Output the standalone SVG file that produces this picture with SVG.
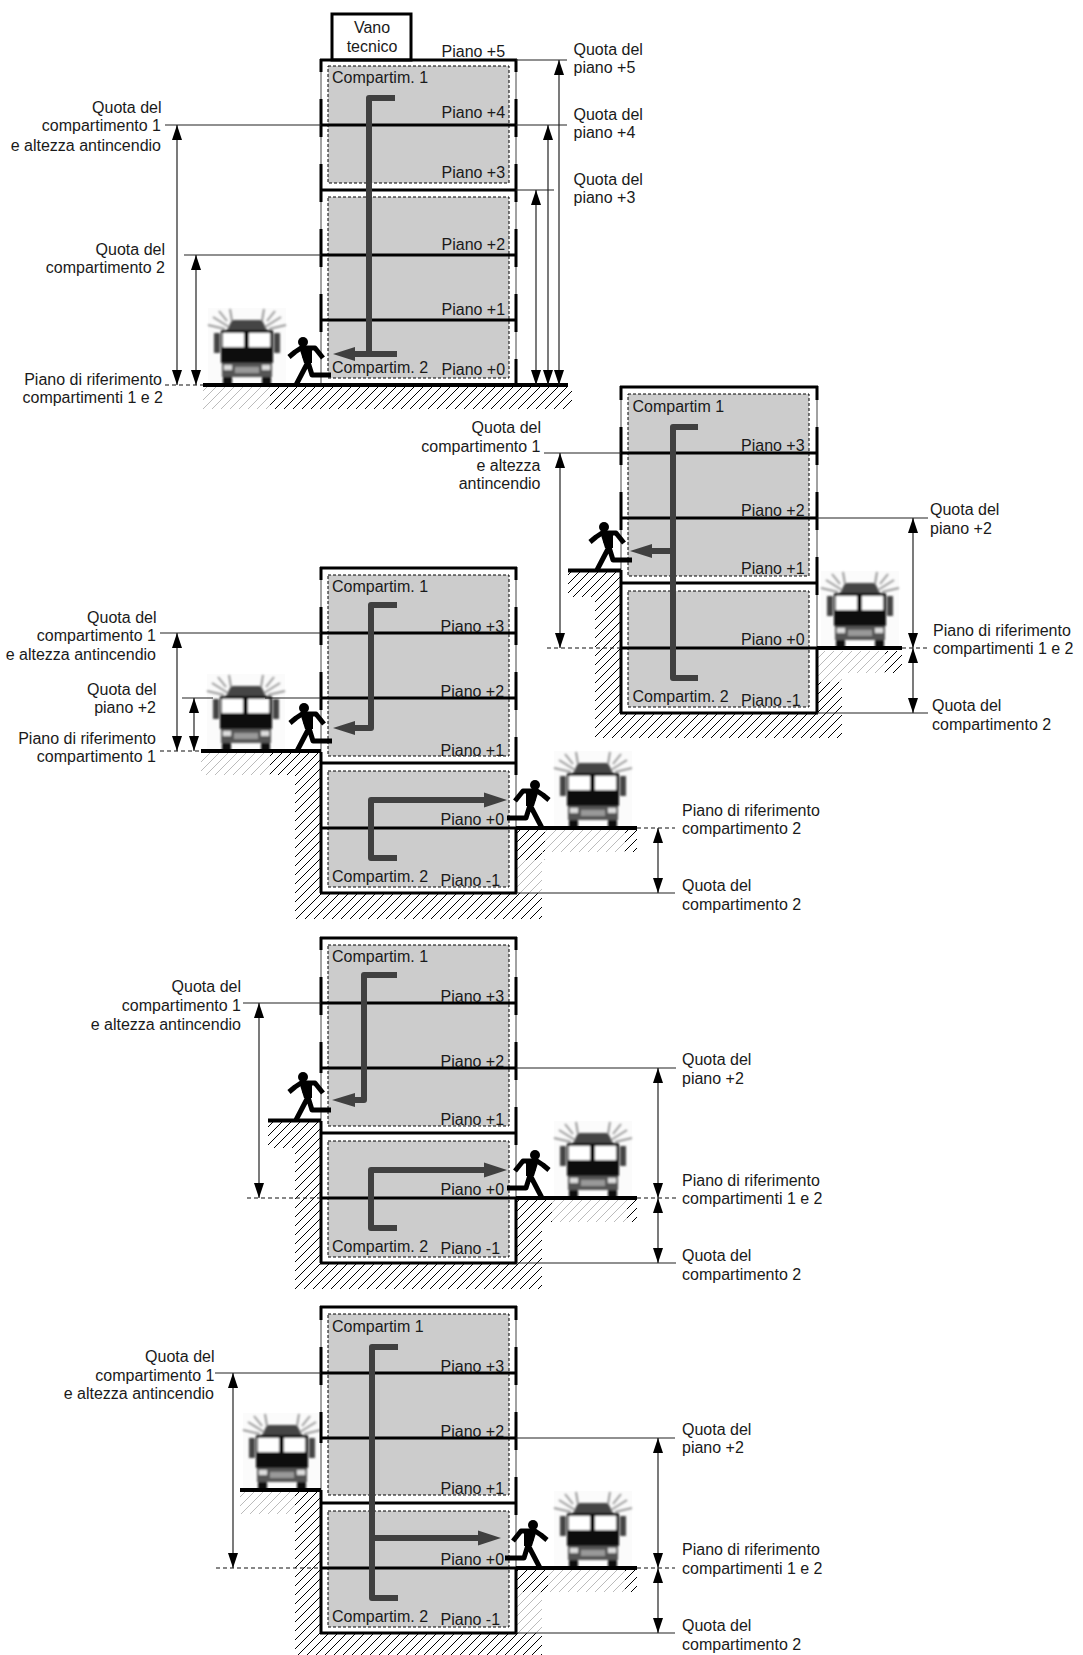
<svg xmlns="http://www.w3.org/2000/svg" xmlns:xlink="http://www.w3.org/1999/xlink" width="1083" height="1655" viewBox="0 0 1083 1655">
<style>
text{font-family:"Liberation Sans",Arial,sans-serif;font-size:16px;fill:#1a1a1a}
.e{text-anchor:end}
.g{fill:#ccc;stroke:#000;stroke-width:1;stroke-dasharray:3 2}
.f{stroke:#000;stroke-width:3;fill:none}
.w{stroke:#000;stroke-width:3;fill:none}
.t{stroke:#444;stroke-width:1;fill:none}
.gr{stroke:#000;stroke-width:4;fill:none}
.d{stroke:#222;stroke-width:1.2;fill:none;marker-start:url(#ah);marker-end:url(#ah)}
.r{stroke:#222;stroke-width:1.1;fill:none}
.k{stroke:#111;stroke-width:1.1;fill:none;stroke-dasharray:4 3}
.a{stroke:#404040;stroke-width:6;fill:none;stroke-linejoin:round}
.h{fill:#404040}
</style>
<defs>
<marker id="ah" markerUnits="userSpaceOnUse" markerWidth="15" markerHeight="10" refX="15" refY="5" orient="auto-start-reverse"><path d="M0,0L15,5L0,10Z" fill="#000"/></marker>
<pattern id="hb" patternUnits="userSpaceOnUse" width="9" height="9"><path d="M-1,1L1,-1M0,9L9,0M8,10L10,8" stroke="#000" stroke-width="1"/></pattern>
<pattern id="hl" patternUnits="userSpaceOnUse" width="9" height="9"><path d="M-1,1L1,-1M0,9L9,0M8,10L10,8" stroke="#bbb" stroke-width="1"/></pattern>
<filter id="bl" x="-10%" y="-10%" width="120%" height="120%"><feGaussianBlur stdDeviation="1.1"/></filter>
<g id="truck">
<rect x="-39" y="-77" width="78" height="77" fill="#fbfbfb"/>
<g filter="url(#bl)">
<path d="M-20,-55L-15,-65L15,-65L20,-55Z" fill="#444"/>
<rect x="-33" y="-52" width="6" height="20" fill="#444"/>
<rect x="27" y="-52" width="6" height="20" fill="#444"/>
<rect x="-26" y="-55" width="52" height="33" fill="#111"/>
<rect x="-24" y="-52" width="21" height="14" fill="#fff"/>
<rect x="2" y="-52" width="21" height="14" fill="#fff"/>
<rect x="-25" y="-22" width="50" height="14" fill="#555"/>
<rect x="-23" y="-20" width="8" height="5" fill="#ddd"/>
<rect x="15" y="-20" width="8" height="5" fill="#ddd"/>
<rect x="-12" y="-18" width="24" height="6" fill="#999"/>
<rect x="-24" y="-8" width="9" height="8" fill="#111"/>
<rect x="15" y="-8" width="9" height="8" fill="#111"/>
<path d="M-18,-58L-34,-68M-20,-64L-28,-74M-15,-64L-17,-76M-22,-56L-39,-60M18,-58L34,-68M20,-64L28,-74M15,-64L17,-76M22,-56L39,-60" stroke="#999" stroke-width="2" fill="none"/>
</g>
</g>
<g id="run">
<circle cx="0" cy="-43" r="5" fill="#000"/>
<path d="M-14,-28L-8,-33L-2,-37L12,-37L20,-27M1,-30L5,-23L-7,0M5,-23L9,-10L28,-10" stroke="#000" stroke-width="5" fill="none" stroke-linejoin="round"/>
<path d="M-4,-38L9,-38L9,-22L1,-22Z" fill="#000"/>
</g>
</defs>

<g id="trucks">
<use href="#truck" x="247" y="385"/><use href="#truck" x="860" y="648"/><use href="#truck" x="246" y="751"/><use href="#truck" x="593" y="828"/><use href="#truck" x="593" y="1198"/><use href="#truck" x="282" y="1490"/><use href="#truck" x="593" y="1568"/>
</g>

<g id="hatches">
<rect x="203" y="387" width="67" height="22" fill="url(#hl)"/>
<rect x="270" y="387" width="302" height="22" fill="url(#hb)"/>
<path d="M568,571H621V713H817V682H842V738H595V597H568Z" fill="url(#hb)"/>
<path d="M817,651H902V673H842V682H817Z" fill="url(#hl)"/>
<rect x="885" y="651" width="17" height="22" fill="url(#hb)"/>
<rect x="201" y="753" width="69" height="22" fill="url(#hl)"/>
<path d="M270,753H321V893H542V919H295V775H270Z" fill="url(#hb)"/>
<path d="M516,830H545V860H516Z" fill="url(#hb)"/>
<path d="M545,830H625V852H542V893H516V860H545Z" fill="url(#hl)"/>
<rect x="625" y="830" width="12" height="22" fill="url(#hb)"/>
<path d="M268,1122H321V1263H542V1289H295V1148H268Z" fill="url(#hb)"/>
<path d="M516,1200H552V1222H542V1263H516Z" fill="url(#hb)"/>
<rect x="552" y="1200" width="75" height="22" fill="url(#hl)"/>
<rect x="627" y="1200" width="10" height="22" fill="url(#hb)"/>
<rect x="240" y="1492" width="55" height="22" fill="url(#hl)"/>
<path d="M295,1492H321V1633H542V1655H295Z" fill="url(#hb)"/>
<path d="M516,1570H548V1592H516Z" fill="url(#hb)"/>
<path d="M548,1570H625V1592H542V1633H516V1592H548Z" fill="url(#hl)"/>
<rect x="625" y="1570" width="12" height="22" fill="url(#hb)"/>
</g>

<g id="building-1">
<rect x="332" y="14" width="79" height="46" fill="#fff" stroke="#000" stroke-width="3"/>
<rect class="g" x="328" y="66" width="181" height="117"/>
<rect class="g" x="328" y="197" width="181" height="181"/>
<path class="t" d="M321,60V385M516,60V385"/>
<path class="w" d="M321,59V72M321,99V137M321,164V202M321,229V267M321,294V332M516,59V72M516,99V137M516,164V202M516,229V267M516,294V332M516,359V385"/>
<path class="f" d="M320,60H517M320,125H517M320,190H517M320,255H517M320,320H517"/>
<path class="gr" d="M203,385H568"/>
<text x="372" y="33" text-anchor="middle">Vano</text><text x="372" y="52" text-anchor="middle">tecnico</text>
<text x="441.500" y="57">Piano +5</text><text x="441.500" y="118">Piano +4</text><text x="441.500" y="178">Piano +3</text><text x="441.500" y="250">Piano +2</text><text x="441.500" y="315">Piano +1</text><text x="441.500" y="375">Piano +0</text>
<text x="332" y="83">Compartim. 1</text><text x="332" y="373">Compartim. 2</text>
</g>

<g id="building-2">
<rect class="g" x="628" y="394" width="181" height="182"/>
<rect class="g" x="628" y="591" width="181" height="116"/>
<path class="t" d="M621,387V570M817,387V648"/>
<path class="w" d="M621,386V400M621,427V465M621,492V530M621,570V713M817,386V400M817,427V465M817,492V530M817,557V595M817,648V713"/>
<path class="f" d="M620,387H818M620,453H818M620,518H818M620,583H818M620,648H818M620,713H818"/>
<path class="gr" d="M568,570.500H621M817,648H902"/>
<text x="632.500" y="412">Compartim 1</text><text x="632.500" y="702">Compartim. 2</text>
<text x="741" y="451">Piano +3</text><text x="741" y="516">Piano +2</text><text x="741" y="574">Piano +1</text><text x="741" y="644.500">Piano +0</text><text x="741" y="705.500">Piano -1</text>
</g>

<g id="building-3">
<rect class="g" x="328" y="575" width="181" height="181"/>
<rect class="g" x="328" y="771" width="181" height="116"/>
<path class="t" d="M321,568V752M516,568V828"/>
<path class="w" d="M321,567V580M321,607V645M321,672V710M321,752V893M516,567V580M516,607V645M516,672V710M516,737V775M516,828V893"/>
<path class="f" d="M320,568H517M320,633H517M320,698H517M320,763H517M320,828H517M320,893H517"/>
<path class="gr" d="M201,751H321M516,828H637"/>
<text x="332" y="592">Compartim. 1</text><text x="332" y="882">Compartim. 2</text>
<text x="440.500" y="631.500">Piano +3</text><text x="440.500" y="696.500">Piano +2</text><text x="440.500" y="755.500">Piano +1</text><text x="440.500" y="825">Piano +0</text><text x="440.500" y="885.500">Piano -1</text>
</g>

<g id="building-4">
<rect class="g" x="328" y="945" width="181" height="181"/>
<rect class="g" x="328" y="1141" width="181" height="116"/>
<path class="t" d="M321,938V1121M516,938V1198"/>
<path class="w" d="M321,937V950M321,977V1015M321,1042V1073M321,1121V1263M516,937V950M516,977V1015M516,1042V1080M516,1107V1145M516,1198V1263"/>
<path class="f" d="M320,938H517M320,1003H517M320,1068H517M320,1133H517M320,1198H517M320,1263H517"/>
<path class="gr" d="M268,1120.500H321M516,1198H637"/>
<text x="332" y="962">Compartim. 1</text><text x="332" y="1252">Compartim. 2</text>
<text x="440.500" y="1001.500">Piano +3</text><text x="440.500" y="1066.500">Piano +2</text><text x="440.500" y="1124.500">Piano +1</text><text x="440.500" y="1195">Piano +0</text><text x="440.500" y="1254">Piano -1</text>
</g>

<g id="building-5">
<rect class="g" x="328" y="1314" width="181" height="181"/>
<rect class="g" x="328" y="1511" width="181" height="116"/>
<path class="t" d="M321,1307V1490M516,1307V1568"/>
<path class="w" d="M321,1306V1320M321,1347V1385M321,1412V1443M321,1490V1633M516,1306V1320M516,1347V1385M516,1412V1450M516,1477V1515M516,1568V1633"/>
<path class="f" d="M320,1307H517M320,1373H517M320,1438H517M320,1503H517M320,1568H517M320,1633H517"/>
<path class="gr" d="M240,1490H321M516,1568H637"/>
<text x="332" y="1332">Compartim 1</text><text x="332" y="1622">Compartim. 2</text>
<text x="440.500" y="1371.500">Piano +3</text><text x="440.500" y="1436.500">Piano +2</text><text x="440.500" y="1494">Piano +1</text><text x="440.500" y="1564.500">Piano +0</text><text x="440.500" y="1624.500">Piano -1</text>
</g>

<g id="connectors">
<path class="r" d="M516,60H567M516,125H567M516,190H554M165,125H321M184,255H321"/>
<path class="k" d="M165,385H203"/>
<line class="d" x1="559" y1="60" x2="559" y2="385"/><line class="d" x1="548" y1="125" x2="548" y2="385"/><line class="d" x1="536" y1="190" x2="536" y2="385"/><line class="d" x1="177" y1="125" x2="177" y2="385"/><line class="d" x1="196" y1="255" x2="196" y2="385"/>
<path class="r" d="M544,453H621M817,518H928M817,713H928"/>
<path class="k" d="M547,648H621M902,648H929"/>
<line class="d" x1="560" y1="453" x2="560" y2="648"/><line class="d" x1="913" y1="518" x2="913" y2="648"/><line class="d" x1="913" y1="648" x2="913" y2="713"/>
<path class="r" d="M160,633H321M182,698H213M265,698H321M516,893H675"/>
<path class="k" d="M160,751H201M637,828H675"/>
<line class="d" x1="177" y1="633" x2="177" y2="751"/><line class="d" x1="194" y1="698" x2="194" y2="751"/><line class="d" x1="658" y1="828" x2="658" y2="893"/>
<path class="r" d="M243,1003H321M516,1068H676M516,1263H676"/>
<path class="k" d="M247,1198H321M637,1198H677"/>
<line class="d" x1="259" y1="1003" x2="259" y2="1198"/><line class="d" x1="658" y1="1068" x2="658" y2="1198"/><line class="d" x1="658" y1="1198" x2="658" y2="1263"/>
<path class="r" d="M215,1373H321M516,1438H675M516,1633H675"/>
<path class="k" d="M216,1568H321M637,1568H675"/>
<line class="d" x1="233" y1="1373" x2="233" y2="1568"/><line class="d" x1="658" y1="1438" x2="658" y2="1568"/><line class="d" x1="658" y1="1568" x2="658" y2="1633"/>
<path class="a" d="M395,98H369V354M397,354H353"/><path class="h" d="M333,354L355,347V361Z"/>
<path class="a" d="M698,427H673V678H698M673,551H650"/><path class="h" d="M630,551L652,544V558Z"/>
<path class="a" d="M397,605H371V728H353"/><path class="h" d="M333,728L355,721V735Z"/>
<path class="a" d="M397,858H371V800H486"/><path class="h" d="M507,800L484,792.500V807.500Z"/>
<path class="a" d="M397,975H364V1100H353"/><path class="h" d="M332,1100L355,1093V1107Z"/>
<path class="a" d="M397,1228H371V1170H486"/><path class="h" d="M507,1170L484,1162.500V1177.500Z"/>
<path class="a" d="M398,1347H372V1598H398M372,1538H480"/><path class="h" d="M501,1538L478,1530.500V1545.500Z"/>
</g>

<g id="runners">
<use href="#run" transform="translate(303,385)"/><use href="#run" transform="translate(604,570)"/><use href="#run" transform="translate(304,751)"/><use href="#run" transform="translate(535,828) scale(-1,1)"/><use href="#run" transform="translate(303,1120)"/><use href="#run" transform="translate(535,1198) scale(-1,1)"/><use href="#run" transform="translate(533,1568) scale(-1,1)"/>
</g>

<g id="labels">
<text x="573.500" y="55">Quota del</text><text x="573.500" y="73">piano +5</text>
<text x="573.500" y="120">Quota del</text><text x="573.500" y="138">piano +4</text>
<text x="573.500" y="185">Quota del</text><text x="573.500" y="203">piano +3</text>
<text class="e" x="161.500" y="113">Quota del</text><text class="e" x="161" y="131">compartimento 1</text><text class="e" x="161" y="151">e altezza antincendio</text>
<text class="e" x="165" y="255">Quota del</text><text class="e" x="165" y="273">compartimento 2</text>
<text class="e" x="162" y="385">Piano di riferimento</text><text class="e" x="163" y="403">compartimenti 1 e 2</text>

<text class="e" x="541" y="433">Quota del</text><text class="e" x="540.500" y="452">compartimento 1</text><text class="e" x="540.500" y="471">e altezza</text><text class="e" x="540.500" y="489">antincendio</text>
<text x="930" y="515">Quota del</text><text x="930" y="534">piano +2</text>
<text x="933" y="636">Piano di riferimento</text><text x="933" y="654">compartimenti 1 e 2</text>
<text x="932" y="711">Quota del</text><text x="932" y="730">compartimento 2</text>

<text class="e" x="156.500" y="623">Quota del</text><text class="e" x="156" y="641">compartimento 1</text><text class="e" x="156" y="660">e altezza antincendio</text>
<text class="e" x="156.500" y="695">Quota del</text><text class="e" x="156" y="713">piano +2</text>
<text class="e" x="156" y="744">Piano di riferimento</text><text class="e" x="156" y="762">compartimento 1</text>
<text x="682" y="815.500">Piano di riferimento</text><text x="682" y="834">compartimento 2</text>
<text x="682" y="891">Quota del</text><text x="682" y="910">compartimento 2</text>

<text class="e" x="241" y="992">Quota del</text><text class="e" x="241" y="1011">compartimento 1</text><text class="e" x="241" y="1030">e altezza antincendio</text>
<text x="682" y="1065">Quota del</text><text x="682" y="1084">piano +2</text>
<text x="682" y="1186">Piano di riferimento</text><text x="682" y="1204">compartimenti 1 e 2</text>
<text x="682" y="1261">Quota del</text><text x="682" y="1280">compartimento 2</text>

<text class="e" x="214.500" y="1362">Quota del</text><text class="e" x="214.500" y="1381">compartimento 1</text><text class="e" x="214" y="1399">e altezza antincendio</text>
<text x="682" y="1435">Quota del</text><text x="682" y="1453">piano +2</text>
<text x="682" y="1555">Piano di riferimento</text><text x="682" y="1574">compartimenti 1 e 2</text>
<text x="682" y="1631">Quota del</text><text x="682" y="1650">compartimento 2</text>
</g>
</svg>
